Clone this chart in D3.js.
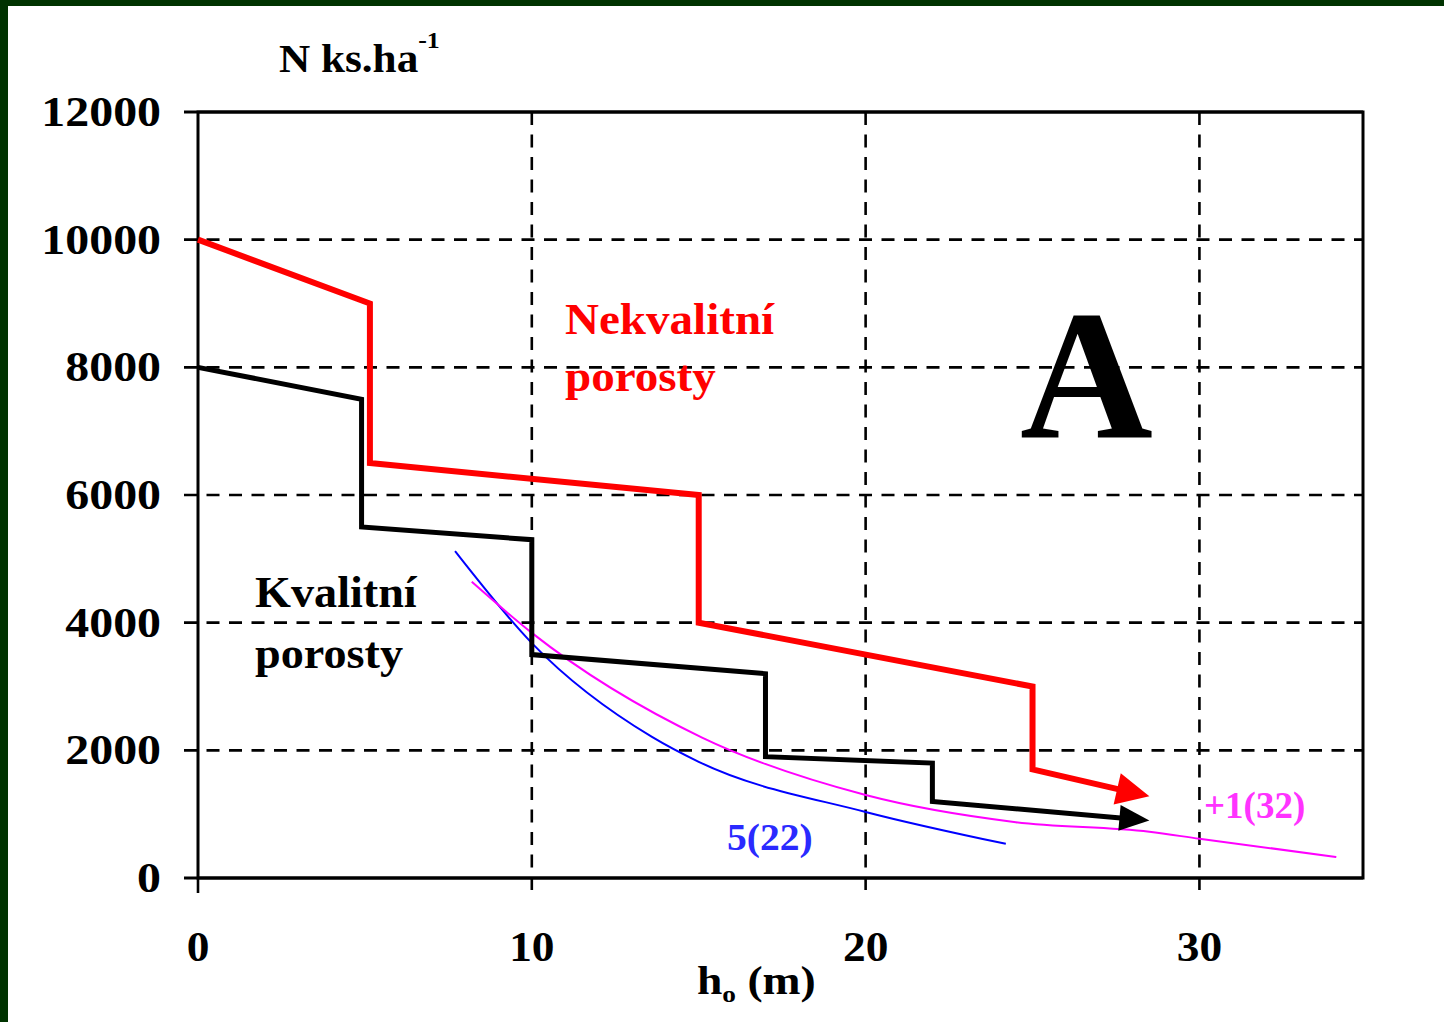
<!DOCTYPE html>
<html>
<head>
<meta charset="utf-8">
<script src="https://cdn.jsdelivr.net/npm/d3@7"></script>
<style>
  body { margin: 0; background: #fff; }
  text { font-family: "Liberation Serif", "Times New Roman", serif; font-weight: bold; }
</style>
</head>
<body>
<div id="chart"></div>
<script>
// values
var xTicks = [0, 10, 20, 30];
var yTicks = [0, 2000, 4000, 6000, 8000, 10000, 12000];

// poor stands (red step line)
var redH = [0, 5.15, 5.15, 15, 15, 25, 25, 28.5];
var redN = [10000, 9000, 6500, 6000, 4000, 3000, 1700, 1280];

// good stands (black step line)
var blackH = [0, 4.9, 4.9, 10, 10, 17, 17, 22, 22, 28.5];
var blackN = [8000, 7500, 5500, 5300, 3500, 3200, 1900, 1800, 1200, 900];

// 5(22) curve
var blueH = [7.7, 10, 13.6, 15, 20, 24.2];
var blueN = [5120, 3680, 2210, 1820, 1035, 535];

// +1(32) curve
var pinkH = [8.2, 10, 15.1, 20, 24.5, 28.5, 30, 34.1];
var pinkN = [4640, 3840, 2200, 1300, 875, 725, 615, 330];

var W = 1444, H = 1022;
var margin = { top: 112, left: 198 };
var plotW = 1165, plotH = 766;

var svg = d3.select("#chart").append("svg")
  .attr("width", W).attr("height", H);

// dark green frame of the screenshot (top and left)
svg.append("rect").attr("x", 0).attr("y", 0).attr("width", W).attr("height", 6).attr("fill", "#003300");
svg.append("rect").attr("x", 0).attr("y", 0).attr("width", 8).attr("height", H).attr("fill", "#003300");

var x = d3.scaleLinear().domain([0, 34.9]).range([margin.left, margin.left + plotW]);
var y = d3.scaleLinear().domain([0, 12000]).range([margin.top + plotH, margin.top]);

var g = svg.append("g");

// text in the source is a bit wider than Liberation Serif, so stretch it
function place(sel, px, py, sx) {
  return sel.attr("transform", "translate(" + px + "," + py + ") scale(" + sx + ",1)");
}

// horizontal grid + y ticks
g.selectAll(".hgrid")
  .data(yTicks)
  .enter().append("line")
  .attr("x1", x(0) - 14)
  .attr("x2", x.range()[1])
  .attr("y1", function(d) { return y(d); })
  .attr("y2", function(d) { return y(d); })
  .attr("stroke", "#000")
  .attr("stroke-width", function(d) { return (d == 0 || d == 12000) ? 3 : 2.6; })
  .attr("stroke-dasharray", function(d) { return (d == 0 || d == 12000) ? null : "13,9.5"; });

// vertical grid + x ticks
g.selectAll(".vgrid")
  .data(xTicks.slice(1))
  .enter().append("line")
  .attr("x1", function(d) { return x(d); })
  .attr("x2", function(d) { return x(d); })
  .attr("y1", y(12000))
  .attr("y2", y(0) + 15)
  .attr("stroke", "#000")
  .attr("stroke-width", 2.6)
  .attr("stroke-dasharray", "13,9.5");

g.append("line")
  .attr("x1", x(0)).attr("x2", x(0))
  .attr("y1", y(0)).attr("y2", y(0) + 15)
  .attr("stroke", "#000").attr("stroke-width", 2.6);

// plot frame
g.append("rect")
  .attr("x", x(0)).attr("y", y(12000))
  .attr("width", x.range()[1] - x(0))
  .attr("height", y(0) - y(12000))
  .attr("fill", "none")
  .attr("stroke", "#000")
  .attr("stroke-width", 3);

// tick labels
g.selectAll(".ylab")
  .data(yTicks)
  .enter().append("text")
  .attr("transform", function(d) { return "translate(161," + (y(d) + 14) + ") scale(1.14,1)"; })
  .attr("text-anchor", "end")
  .attr("font-size", 42)
  .text(function(d) { return d; });

g.selectAll(".xlab")
  .data(xTicks)
  .enter().append("text")
  .attr("transform", function(d) { return "translate(" + x(d) + ",961) scale(1.08,1)"; })
  .attr("text-anchor", "middle")
  .attr("font-size", 42)
  .text(function(d) { return d; });

// axis titles
var yt = place(svg.append("text"), 279, 72, 1.08).attr("font-size", 40);
yt.append("tspan").text("N ks.ha");
yt.append("tspan").attr("dy", -24).attr("font-size", 24).text("-1");

var xt = place(svg.append("text"), 697, 994, 1.14).attr("font-size", 40);
xt.append("tspan").text("h");
xt.append("tspan").attr("dy", 8).attr("font-size", 24).text("o");
xt.append("tspan").attr("dy", -8).text(" (m)");

function pts(hs, ns) {
  return hs.map(function(h, i) { return [x(h), y(ns[i])]; });
}

// step line ending with an arrow head at its last point
function arrowLine(hs, ns, color, width, len, half) {
  var p = pts(hs, ns);
  var tip = p[p.length - 1], prev = p[p.length - 2];
  var ang = Math.atan2(tip[1] - prev[1], tip[0] - prev[0]);
  var c = Math.cos(ang), s = Math.sin(ang);
  var line = p.slice(0, -1);
  line.push([tip[0] - c * (len - 4), tip[1] - s * (len - 4)]);
  g.append("path")
    .attr("d", d3.line()(line))
    .attr("fill", "none")
    .attr("stroke", color)
    .attr("stroke-width", width)
    .attr("stroke-linejoin", "miter");
  var bx = tip[0] - c * len, by = tip[1] - s * len;
  g.append("path")
    .attr("d", d3.line()([
      tip,
      [bx - s * half, by + c * half],
      [bx + s * half, by - c * half]
    ]) + "Z")
    .attr("fill", color);
}

var curve = d3.line().curve(d3.curveMonotoneX);

g.append("path")
  .attr("d", curve(pts(blueH, blueN)))
  .attr("fill", "none").attr("stroke", "#0000ff").attr("stroke-width", 2);

g.append("path")
  .attr("d", curve(pts(pinkH, pinkN)))
  .attr("fill", "none").attr("stroke", "#ff00ff").attr("stroke-width", 2);

arrowLine(blackH, blackN, "#000", 5, 30, 13);
arrowLine(redH, redN, "#ff0000", 6, 33, 16);

// annotations
var ann = svg.append("g");
place(ann.append("text"), 565, 334, 1.07).attr("font-size", 44).attr("fill", "#ff0000").text("Nekvalitní");
place(ann.append("text"), 565, 391, 1.07).attr("font-size", 44).attr("fill", "#ff0000").text("porosty");
place(ann.append("text"), 255, 607, 1.05).attr("font-size", 44).attr("fill", "#000").text("Kvalitní");
place(ann.append("text"), 255, 668, 1.05).attr("font-size", 44).attr("fill", "#000").text("porosty");
place(ann.append("text"), 1020, 437, 1).attr("font-size", 184).attr("fill", "#000").text("A");
place(ann.append("text"), 727, 850, 1.07).attr("font-size", 37).attr("fill", "#2a2aff").text("5(22)");
place(ann.append("text"), 1204, 818, 1).attr("font-size", 37).attr("fill", "#ff33ff").text("+1(32)");
</script>
</body>
</html>
